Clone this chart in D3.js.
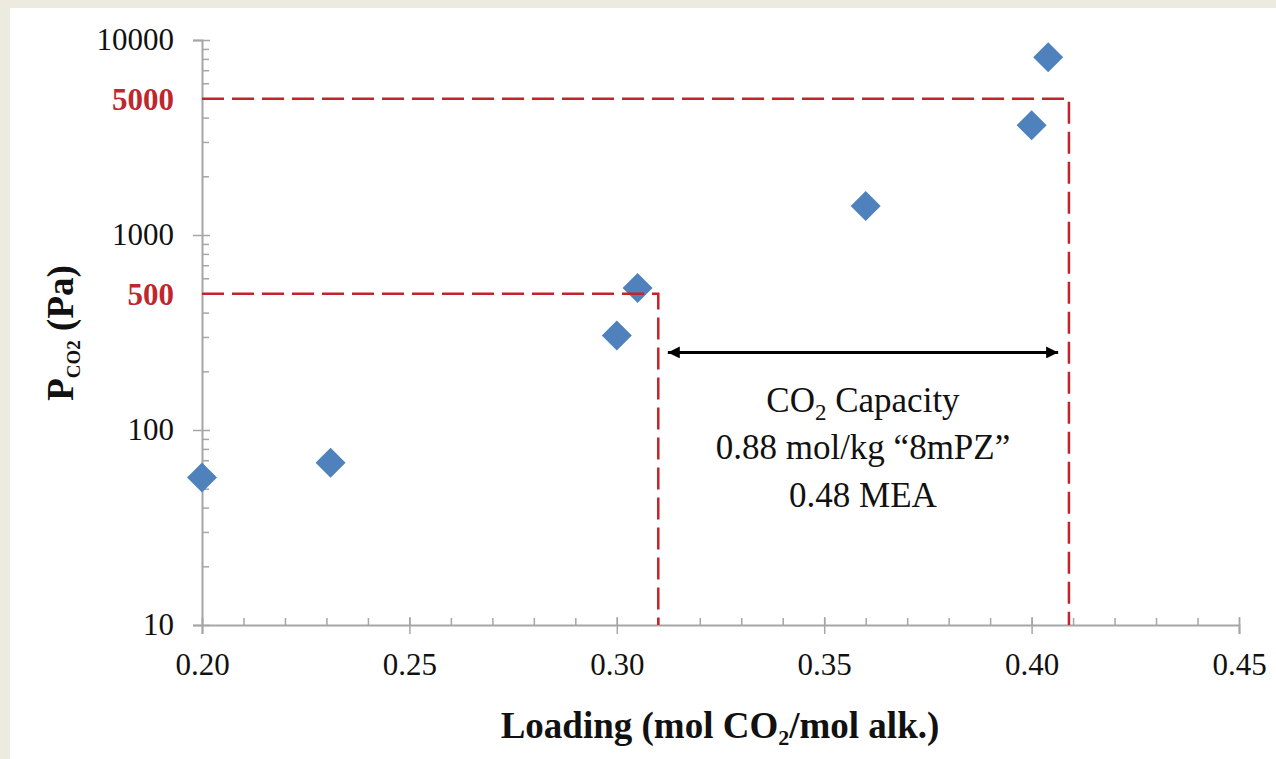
<!DOCTYPE html>
<html>
<head>
<meta charset="utf-8">
<script src="https://cdn.jsdelivr.net/npm/d3@7"></script>
<style>
  body { margin: 0; background: #EDEAE0; }
  svg { display: block; }
  text { font-family: "Liberation Serif", "Times New Roman", serif; }
</style>
</head>
<body>
<div id="chart"></div>
<script>
// measured points
const loading = [0.200, 0.231, 0.300, 0.305, 0.360, 0.400, 0.404];
const pco2 = [57, 68, 305, 535, 1410, 3650, 8150];

const xTicks = [0.20, 0.25, 0.30, 0.35, 0.40, 0.45];
const yTicks = [10, 100, 1000, 10000];

// capacity guide lines (loading, pressure)
const lean = {x: 0.31, p: 500};
const rich = {x: 0.409, p: 5000};
const arrowSpan = [0.3123, 0.4064];
const arrowP = 250;
const noteLines = ["Capacity", "0.88 mol/kg \u201C8mPZ\u201D", "0.48 MEA"];

const W = 1276, H = 759;
const margin = {top: 40, right: 37, bottom: 134, left: 202};
const width = W - margin.left - margin.right,
      height = H - margin.top - margin.bottom;

const svg = d3.select("#chart").append("svg")
    .attr("width", W)
    .attr("height", H);

// white panel over the beige frame
svg.append("rect")
    .attr("x", 10).attr("y", 8)
    .attr("width", W - 10).attr("height", H - 8)
    .attr("fill", "#fff");

const g = svg.append("g")
    .attr("transform", `translate(${margin.left},${margin.top})`);

const x = d3.scaleLinear().domain([0.20, 0.45]).range([0, width]);
const y = d3.scaleLog().domain([10, 10000]).range([height, 0]);

const axisColor = "#A6A6A6";

// minor ticks x (pointing up)
const xMinor = d3.range(0.20, 0.4501, 0.01);
g.append("g")
    .attr("transform", `translate(0,${height})`)
    .call(d3.axisBottom(x).tickValues(xMinor).tickSize(-7).tickFormat(""))
    .call(a => a.select(".domain").remove())
    .selectAll("line").attr("stroke", axisColor).attr("stroke-width", 1.5);

// major x axis
const gx = g.append("g")
    .attr("transform", `translate(0,${height})`)
    .call(d3.axisBottom(x).tickValues(xTicks).tickSizeOuter(0).tickSize(9)
      .tickPadding(19).tickFormat(d3.format(".2f")));
gx.select(".domain").attr("stroke", axisColor).attr("stroke-width", 2);
gx.selectAll(".tick line").attr("y1", -8).attr("stroke", axisColor).attr("stroke-width", 1.5);
gx.selectAll(".tick text").attr("font-size", 31).attr("fill", "#111")
    .style("font-family", "Liberation Serif");

// minor ticks y (pointing right)
const yMinor = [];
[10, 100, 1000].forEach(dec => d3.range(2, 10).forEach(k => yMinor.push(dec * k)));
g.append("g")
    .call(d3.axisLeft(y).tickValues(yMinor).tickSize(-7).tickFormat(""))
    .call(a => a.select(".domain").remove())
    .selectAll("line").attr("stroke", axisColor).attr("stroke-width", 1.5);

// major y axis
const gy = g.append("g")
    .call(d3.axisLeft(y).tickValues(yTicks).tickSizeOuter(0).tickSize(9)
      .tickPadding(19).tickFormat(d3.format("d")));
gy.select(".domain").attr("stroke", axisColor).attr("stroke-width", 2);
gy.selectAll(".tick line").attr("x1", 8).attr("stroke", axisColor).attr("stroke-width", 1.5);
gy.selectAll(".tick text").attr("font-size", 31).attr("fill", "#111")
    .style("font-family", "Liberation Serif");

// red highlighted pressures on the y axis
g.selectAll(".redlab")
  .data([lean.p, rich.p])
  .enter().append("text")
    .attr("class", "redlab")
    .attr("x", -28)
    .attr("y", d => y(d))
    .attr("dy", "0.35em")
    .attr("text-anchor", "end")
    .attr("font-size", 31)
    .attr("font-weight", "bold")
    .attr("fill", "#C0262D")
    .text(d => d);

// data points
const pts = loading.map((l, i) => ({l: l, p: pco2[i]}));
g.selectAll(".pt")
  .data(pts)
  .enter().append("path")
    .attr("class", "pt")
    .attr("d", d3.symbol(d3.symbolSquare, 450)())
    .attr("transform", d => `translate(${x(d.l)},${y(d.p)}) rotate(45)`)
    .attr("fill", "#4F81BD");

// dashed capacity guides
const guide = d3.line().x(d => x(d[0])).y(d => y(d[1]));
g.selectAll(".guide")
  .data([lean, rich])
  .enter().append("path")
    .attr("class", "guide")
    .attr("d", d => guide([[0.20, d.p], [d.x, d.p], [d.x, 10]]))
    .attr("fill", "none")
    .attr("stroke", "#C4232B")
    .attr("stroke-width", 2.5)
    .attr("stroke-dasharray", "22,8");

// double arrow
const defs = svg.append("defs");
defs.append("marker")
    .attr("id", "head")
    .attr("viewBox", "0 0 10 10")
    .attr("refX", 10).attr("refY", 5)
    .attr("markerWidth", 5).attr("markerHeight", 4)
    .attr("markerUnits", "strokeWidth")
    .attr("orient", "auto-start-reverse")
  .append("path")
    .attr("d", "M0,0L10,5L0,10Z")
    .attr("fill", "#000");

g.append("line")
    .attr("x1", x(arrowSpan[0])).attr("x2", x(arrowSpan[1]))
    .attr("y1", y(arrowP)).attr("y2", y(arrowP))
    .attr("stroke", "#000")
    .attr("stroke-width", 3)
    .attr("marker-start", "url(#head)")
    .attr("marker-end", "url(#head)");

// capacity note
const noteX = x((arrowSpan[0] + arrowSpan[1]) / 2);
const note = g.append("text")
    .attr("x", noteX)
    .attr("text-anchor", "middle")
    .attr("font-size", 35)
    .attr("fill", "#111");
const first = note.append("tspan").attr("x", noteX).attr("y", 372);
first.append("tspan").text("CO");
first.append("tspan").attr("font-size", 23).attr("dy", 8).text("2");
first.append("tspan").attr("dy", -8).text(" " + noteLines[0]);
note.append("tspan").attr("x", noteX).attr("y", 419).text(noteLines[1]);
note.append("tspan").attr("x", noteX).attr("y", 467).text(noteLines[2]);

// x axis title
const xt = svg.append("text")
    .attr("x", 720)
    .attr("y", 738)
    .attr("text-anchor", "middle")
    .attr("font-size", 37)
    .attr("font-weight", "bold")
    .attr("fill", "#111");
xt.append("tspan").text("Loading (mol CO");
xt.append("tspan").attr("font-size", 22).attr("dy", 7).text("2");
xt.append("tspan").attr("dy", -7).text("/mol alk.)");

// y axis title
const yt = svg.append("text")
    .attr("transform", "translate(73,333) rotate(-90)")
    .attr("text-anchor", "middle")
    .attr("font-size", 37)
    .attr("font-weight", "bold")
    .attr("fill", "#111");
yt.append("tspan").text("P");
yt.append("tspan").attr("font-size", 19).attr("dy", 7).text("CO2");
yt.append("tspan").attr("dy", -7).text(" (Pa)");
</script>
</body>
</html>
